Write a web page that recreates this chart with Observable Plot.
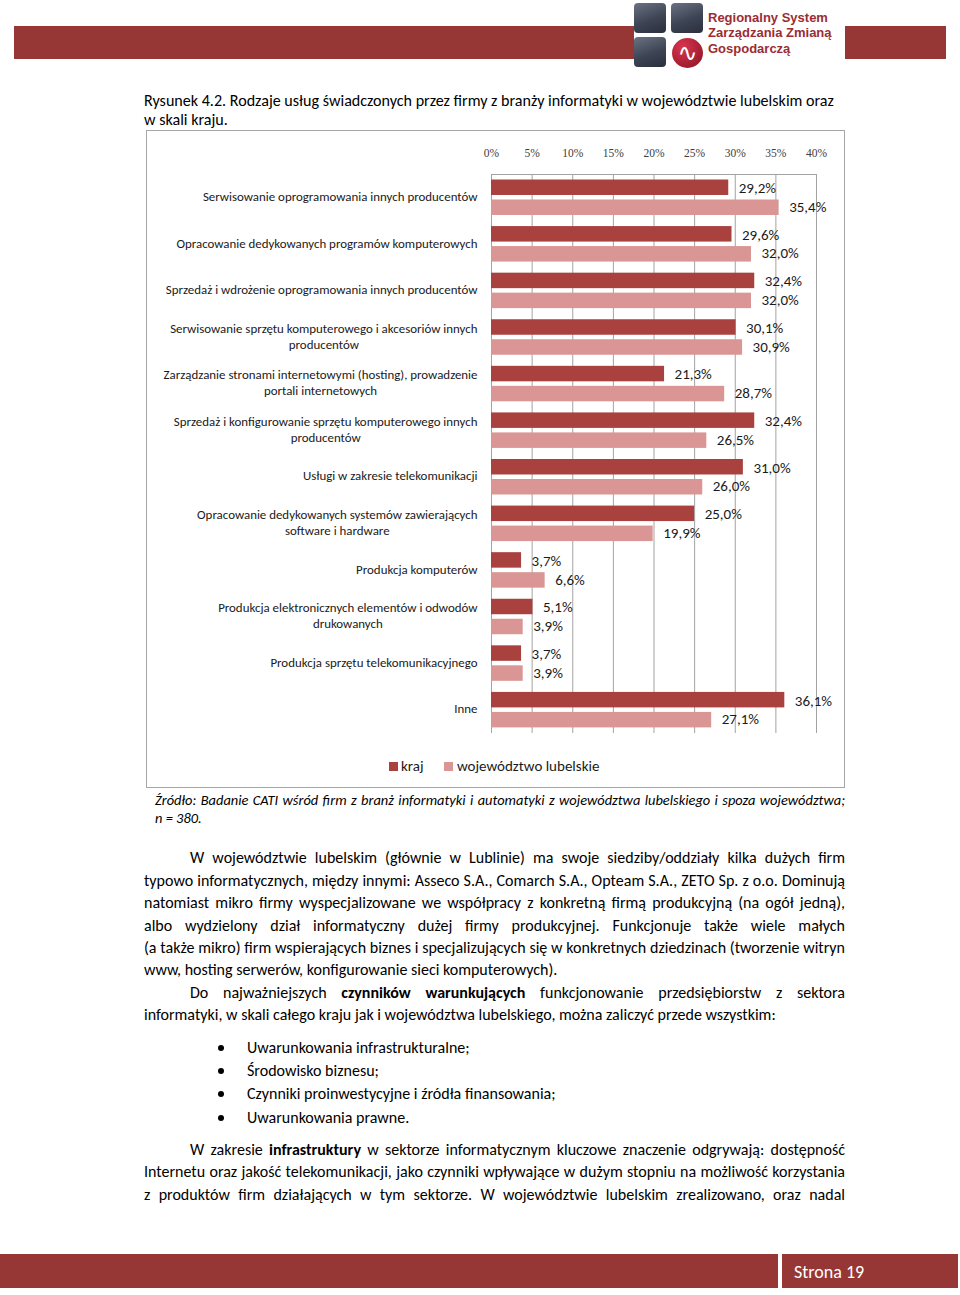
<!DOCTYPE html>
<html lang="pl">
<head>
<meta charset="utf-8">
<script src="https://cdn.jsdelivr.net/npm/d3@7"></script>
<script src="https://cdn.jsdelivr.net/npm/@observablehq/plot@0.6"></script>
<style>
  html, body { margin: 0; padding: 0; }
  body { width: 960px; height: 1295px; position: relative; overflow: hidden; background: #fff;
         font-family: Calibri, Carlito, Lato, sans-serif; color: #000; }
  .abs { position: absolute; }
  .band { position: absolute; background: #963735; }
  .sq { position: absolute; width: 32px; height: 30px; border-radius: 4px;
        background: linear-gradient(160deg, #6b7383 0%, #3d4454 55%, #2a2f3b 100%); }
  .logo-text { position: absolute; left: 708px; font-family: "Liberation Sans", Arial, sans-serif;
               font-weight: bold; font-size: 13px; color: #9b2c33; line-height: 16px; white-space: nowrap; }
  .ln { position: absolute; white-space: nowrap; line-height: 22px; height: 22px; }
  .ln span { display: inline-block; white-space: nowrap; transform-origin: 0 50%; }
  #box { position: absolute; left: 146px; top: 130px; width: 699px; height: 658px; box-sizing: border-box;
         border: 1px solid #a6a6a6; }
  #chart { position: absolute; left: 146px; top: 130px; }
  .sw { position: absolute; width: 9px; height: 9px; }
  .lg { position: absolute; font-size: 15px; line-height: 18px; color: #1a1a1a; white-space: nowrap; }
  .bullet { position: absolute; width: 6px; height: 6px; border-radius: 50%; background: #000; }
</style>
</head>
<body>
<!-- header -->
<div class="band" style="left:14px;top:26px;width:620px;height:33px"></div>
<div class="band" style="left:845px;top:26px;width:101px;height:33px"></div>
<div class="sq" style="left:634px;top:3px"></div>
<div class="sq" style="left:671px;top:3px"></div>
<div class="sq" style="left:634px;top:37px"></div>
<div class="abs" style="left:672px;top:38px;width:31px;height:30px;border-radius:50%;background:radial-gradient(circle at 35% 30%, #d8364f, #a11c30 70%, #7d1526);overflow:hidden;color:#fff;font-family:'DejaVu Sans';font-size:24px;line-height:30px;text-align:center">∿</div>
<div class="logo-text" style="top:10px">Regionalny System</div>
<div class="logo-text" style="top:25px">Zarządzania Zmianą</div>
<div class="logo-text" style="top:41px">Gospodarczą</div>

<div id="box"></div>
<div id="chart"></div>
<div id="legend"></div>
<div id="text"></div>

<!-- footer -->
<div class="band" style="left:0;top:1254px;width:778px;height:34px"></div>
<div class="band" style="left:782px;top:1254px;width:176px;height:34px"></div>
<div class="abs" style="left:794px;top:1261px;font-size:18px;line-height:22px;color:#fff;white-space:nowrap">Strona 19</div>

<script>
// ---------- chart data ----------
const categories = [
  "Serwisowanie oprogramowania innych producentów",
  "Opracowanie dedykowanych programów komputerowych",
  "Sprzedaż i wdrożenie oprogramowania innych producentów",
  "Serwisowanie sprzętu komputerowego i akcesoriów innych producentów",
  "Zarządzanie stronami internetowymi (hosting), prowadzenie portali internetowych",
  "Sprzedaż i konfigurowanie sprzętu komputerowego innych producentów",
  "Usługi w zakresie telekomunikacji",
  "Opracowanie dedykowanych systemów zawierających software i hardware",
  "Produkcja komputerów",
  "Produkcja elektronicznych elementów i odwodów drukowanych",
  "Produkcja sprzętu telekomunikacyjnego",
  "Inne"
];
const categoryLabels = [
  "Serwisowanie oprogramowania innych producentów",
  "Opracowanie dedykowanych programów komputerowych",
  "Sprzedaż i wdrożenie oprogramowania innych producentów",
  "Serwisowanie sprzętu komputerowego i akcesoriów innych\nproducentów",
  "Zarządzanie stronami internetowymi (hosting), prowadzenie\nportali internetowych",
  "Sprzedaż i konfigurowanie sprzętu komputerowego innych\nproducentów",
  "Usługi w zakresie telekomunikacji",
  "Opracowanie dedykowanych systemów zawierających\nsoftware i hardware",
  "Produkcja komputerów",
  "Produkcja elektronicznych elementów i odwodów\ndrukowanych",
  "Produkcja sprzętu telekomunikacyjnego",
  "Inne"
];
const kraj      = [29.2, 29.6, 32.4, 30.1, 21.3, 32.4, 31.0, 25.0, 3.7, 5.1, 3.7, 36.1];
const lubelskie = [35.4, 32.0, 32.0, 30.9, 28.7, 26.5, 26.0, 19.9, 6.6, 3.9, 3.9, 27.1];
const seriesNames = ["kraj", "województwo lubelskie"];
const seriesColors = ["#a9413f", "#d99694"];
const xTicks = [0, 5, 10, 15, 20, 25, 30, 35, 40];

// ---------- chart ----------
const rowsK = categories.map((c, i) => ({cat: c, value: kraj[i], series: seriesNames[0]}));
const rowsL = categories.map((c, i) => ({cat: c, value: lubelskie[i], series: seriesNames[1]}));
const labelOf = new Map(categories.map((c, i) => [c, categoryLabels[i]]));
const fmt = v => v.toFixed(1).replace(".", ",") + "%";
const FONT = "Calibri, Carlito, Lato, sans-serif";

const chart = Plot.plot({
  width: 698,
  height: 615,
  marginTop: 44,
  marginBottom: 12,
  marginLeft: 345,
  marginRight: 28,
  style: {fontFamily: FONT, fontSize: "12px", color: "#1a1a1a", background: "transparent", overflow: "visible"},
  x: {domain: [0, 40], axis: null},
  y: {domain: categories, padding: 0, round: false, axis: null},
  color: {domain: seriesNames, range: seriesColors},
  marks: [
    Plot.gridX(xTicks, {stroke: "#a3a3a3", strokeOpacity: 1}),
    Plot.frame({anchor: "top", stroke: "#a3a3a3"}),
    Plot.barX(rowsK, {y: "cat", x: "value", fill: "series", insetTop: 5.5, insetBottom: 25.6}),
    Plot.barX(rowsL, {y: "cat", x: "value", fill: "series", insetTop: 25.5, insetBottom: 5.6}),
    Plot.text(rowsK, {y: "cat", x: "value", text: d => fmt(d.value), textAnchor: "start", dx: 10, dy: -9.5, fontSize: 15, fill: "#1a1a1a"}),
    Plot.text(rowsL, {y: "cat", x: "value", text: d => fmt(d.value), textAnchor: "start", dx: 10, dy: 9.3, fontSize: 15, fill: "#1a1a1a"}),
    Plot.axisX(xTicks, {anchor: "top", label: null, tickSize: 0, tickPadding: 18, tickFormat: d => d + "%",
      fontFamily: "'Liberation Serif', 'Times New Roman', serif", fontSize: 11.5, fill: "#404040"}),
    Plot.axisY({anchor: "left", label: null, tickSize: 0, tickPadding: 14, dy: -2, tickFormat: d => labelOf.get(d),
      fontSize: 12.9, lineHeight: 1.25, fill: "#1a1a1a"})
  ]
});
document.getElementById("chart").append(chart);

// center the wrapped category labels line-by-line (as in the original)
const svg = chart.tagName.toLowerCase() === "svg" ? chart : chart.querySelector("svg");
svg.querySelectorAll('g[aria-label="y-axis tick label"] text').forEach(t => {
  const spans = t.querySelectorAll("tspan");
  if (spans.length > 1) {
    const w = Math.max(...[...spans].map(s => s.getComputedTextLength()));
    t.setAttribute("text-anchor", "middle");
    spans.forEach(s => s.setAttribute("x", (+s.getAttribute("x") || 0) - w / 2));
  }
});

// ---------- legend ----------
const legendItems = [
  {name: seriesNames[0], color: seriesColors[0], sx: 389, tx: 401},
  {name: seriesNames[1], color: seriesColors[1], sx: 444, tx: 457}
];
const legend = document.getElementById("legend");
legendItems.forEach(it => {
  const s = document.createElement("div");
  s.className = "sw"; s.style.left = it.sx + "px"; s.style.top = "762px"; s.style.background = it.color;
  const t = document.createElement("div");
  t.className = "lg"; t.style.left = it.tx + "px"; t.style.top = "757px"; t.textContent = it.name;
  legend.append(s, t);
});

// ---------- page text ----------
// mode: "j" = justify to width, "f" = free line whose right end is known
const lines = [
  {g: "title", x: 144, end: 834, y: 101, mode: "f", html: "Rysunek 4.2. Rodzaje usług świadczonych przez firmy z branży informatyki w województwie lubelskim oraz"},
  {g: "title", x: 144, end: 227, y: 120, mode: "f", html: "w skali kraju."},
  {g: "src", x: 155, end: 845, y: 800, mode: "j", it: true, html: "Źródło: Badanie CATI wśród firm z branż informatyki i automatyki z województwa lubelskiego i spoza województwa;"},
  {g: "src", x: 155, end: 201, y: 818, mode: "f", it: true, html: "n = 380."},
  {g: "body", x: 190, end: 845, y: 858, mode: "j", html: "W województwie lubelskim (głównie w Lublinie) ma swoje siedziby/oddziały kilka dużych firm"},
  {g: "body", x: 144, end: 845, y: 881, mode: "j", html: "typowo informatycznych, między innymi: Asseco S.A., Comarch S.A., Opteam S.A., ZETO Sp. z o.o. Dominują"},
  {g: "body", x: 144, end: 845, y: 903, mode: "j", html: "natomiast mikro firmy wyspecjalizowane we współpracy z konkretną firmą produkcyjną (na ogół jedną),"},
  {g: "body", x: 144, end: 845, y: 926, mode: "j", html: "albo wydzielony dział informatyczny dużej firmy produkcyjnej. Funkcjonuje także wiele małych"},
  {g: "body", x: 144, end: 845, y: 948, mode: "j", html: "(a także mikro) firm wspierających biznes i specjalizujących się w konkretnych dziedzinach (tworzenie witryn"},
  {g: "body", x: 144, end: 561, y: 970, mode: "f", html: "www, hosting serwerów, konfigurowanie sieci komputerowych)."},
  {g: "body", x: 190, end: 845, y: 993, mode: "j", html: "Do najważniejszych <b>czynników warunkujących</b> funkcjonowanie przedsiębiorstw z sektora"},
  {g: "body", x: 144, end: 777, y: 1015, mode: "f", html: "informatyki, w skali całego kraju jak i województwa lubelskiego, można zaliczyć przede wszystkim:"},
  {g: "body", x: 247, end: 470, y: 1048, mode: "f", bullet: true, html: "Uwarunkowania infrastrukturalne;"},
  {g: "body", x: 247, end: 379, y: 1071, mode: "f", bullet: true, html: "Środowisko biznesu;"},
  {g: "body", x: 247, end: 555, y: 1094, mode: "f", bullet: true, html: "Czynniki proinwestycyjne i źródła finansowania;"},
  {g: "body", x: 247, end: 409, y: 1118, mode: "f", bullet: true, html: "Uwarunkowania prawne."},
  {g: "body", x: 190, end: 845, y: 1150, mode: "j", html: "W zakresie <b>infrastruktury</b> w sektorze informatycznym kluczowe znaczenie odgrywają: dostępność"},
  {g: "body", x: 144, end: 845, y: 1172, mode: "j", html: "Internetu oraz jakość telekomunikacji, jako czynniki wpływające w dużym stopniu na możliwość korzystania"},
  {g: "body", x: 144, end: 845, y: 1195, mode: "j", html: "z produktów firm działających w tym sektorze. W województwie lubelskim zrealizowano, oraz nadal"}
];
const BASE = 15;
const holder = document.getElementById("text");
const els = lines.map(l => {
  const d = document.createElement("div");
  d.className = "ln";
  d.style.left = l.x + "px";
  d.style.top = (l.y - 11) + "px";
  d.style.fontSize = BASE + "px";
  if (l.it) d.style.fontStyle = "italic";
  const s = document.createElement("span");
  s.innerHTML = l.html;
  d.append(s);
  holder.append(d);
  if (l.bullet) {
    const b = document.createElement("div");
    b.className = "bullet";
    b.style.left = "218px";
    b.style.top = (l.y - 3) + "px";
    holder.append(b);
  }
  return {l, d, s};
});
// font size per group from the lines whose right end is free (long ones)
const ratios = {};
els.forEach(({l, s}) => {
  if (l.mode === "f" && s.textContent.length > 15) {
    (ratios[l.g] ||= []).push((l.end - l.x) / s.getBoundingClientRect().width);
  }
});
const sizeOf = g => {
  const r = ratios[g] || ratios.body;
  return BASE * d3.median(r);
};
els.forEach(({l, d}) => { d.style.fontSize = (l.g === "src" ? sizeOf("body") * 0.9 : sizeOf(l.g)) + "px"; });
els.forEach(({l, s}) => {
  const T = l.end - l.x;
  const w = s.getBoundingClientRect().width;
  const spaces = (s.textContent.match(/ /g) || []).length;
  if (l.mode === "j") {
    if (w < T && spaces > 0) s.style.wordSpacing = ((T - w) / spaces) + "px";
    else if (w > T) s.style.transform = `scaleX(${T / w})`;
  }
});
</script>
</body>
</html>
